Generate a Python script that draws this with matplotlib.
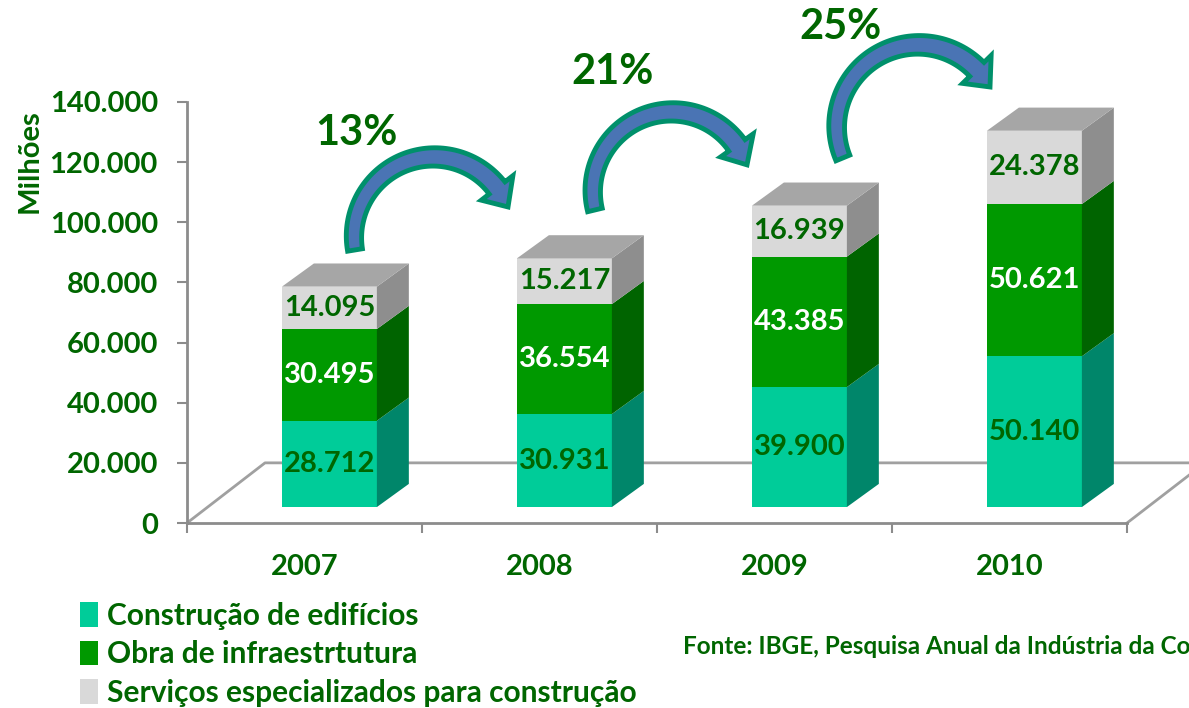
import matplotlib
matplotlib.use('Agg')
import numpy as np
import matplotlib.pyplot as plt
from matplotlib.patches import Polygon
from matplotlib.transforms import IdentityTransform

# fonte parecida com Calibri negrito
plt.rcParams['font.family'] = ['Lato', 'DejaVu Sans']
plt.rcParams['font.weight'] = 'bold'

# dados (R$ milhões)
anos = ['2007', '2008', '2009', '2010']
edificios = [28712, 30931, 39900, 50140]
infraestrutura = [30495, 36554, 43385, 50621]
servicos = [14095, 15217, 16939, 24378]
crescimento = ['13%', '21%', '25%']
nomes = ['Construção de edifícios', 'Obra de infraestrtutura',
         'Serviços especializados para construção']
fonte = 'Fonte: IBGE, Pesquisa Anual da Indústria da Construção'

verde = '#006600'
cor_frente = ['#00CC99', '#009900', '#D9D9D9']
cor_lado = ['#00866A', '#006400', '#8E8E8E']
cor_topo = '#A6A6A6'
cor_texto = [verde, 'white', verde]

# efeito 3D (em unidades dos dados)
piso_dx, piso_dy = 0.332, 20.0     # profundidade do piso
prof_dx, prof_dy = 0.136, 7.7      # profundidade das barras
base = 5.3                         # base das barras (meio do piso)
desloc = 0.106                     # deslocamento da face frontal
larg = 0.404


def seta_curva(ax, p_ini, p_meio, p_fim, w0=15, w1=20, hw=40, hl=22):
    """seta em arco de círculo passando por três pontos (dados)"""
    A, B, C = ax.transData.transform([p_ini, p_meio, p_fim])
    (x1, y1), (x2, y2), (x3, y3) = A, B, C
    d = 2 * (x1 * (y2 - y3) + x2 * (y3 - y1) + x3 * (y1 - y2))
    ux = ((x1**2 + y1**2) * (y2 - y3) + (x2**2 + y2**2) * (y3 - y1)
          + (x3**2 + y3**2) * (y1 - y2)) / d
    uy = ((x1**2 + y1**2) * (x3 - x2) + (x2**2 + y2**2) * (x1 - x3)
          + (x3**2 + y3**2) * (x2 - x1)) / d
    r = np.hypot(x1 - ux, y1 - uy)
    a0 = np.arctan2(y1 - uy, x1 - ux)
    a2 = np.arctan2(y3 - uy, x3 - ux)
    while a2 > a0:
        a2 -= 2 * np.pi
    ah = a2 + hl / r
    t = np.linspace(0, 1, 80)
    ang = a0 + (ah - a0) * t
    w = w0 + (w1 - w0) * t
    ext = np.column_stack([ux + (r + w / 2) * np.cos(ang), uy + (r + w / 2) * np.sin(ang)])
    inn = np.column_stack([ux + (r - w / 2) * np.cos(ang), uy + (r - w / 2) * np.sin(ang)])
    ponta = np.array([
        [ux + (r + hw / 2) * np.cos(ah), uy + (r + hw / 2) * np.sin(ah)],
        [x3, y3],
        [ux + (r - hw / 2) * np.cos(ah), uy + (r - hw / 2) * np.sin(ah)],
    ])
    pts = np.vstack([ext, ponta, inn[::-1]])
    p = Polygon(pts, closed=True, facecolor='#4A74B4', edgecolor='#00906B',
                lw=3.5, joinstyle='miter', transform=IdentityTransform(),
                clip_on=False, zorder=6)
    ax.add_artist(p)


fig = plt.figure(figsize=(11.89, 7.08), dpi=100)
ax = fig.add_axes([187 / 1189, 185 / 708, 940 / 1189, 421 / 708])
ax.set_xlim(-0.5, 3.5)
ax.set_ylim(0, 140)

# piso
x0, x1 = -0.5, 3.5
ax.plot([x0, x0 + piso_dx, x1 + piso_dx], [0, piso_dy, piso_dy],
        color='#A0A0A0', lw=2, clip_on=False, zorder=1)
ax.plot([x1, x1 + piso_dx], [0, piso_dy], color='#A0A0A0', lw=2,
        clip_on=False, zorder=1)

series = [edificios, infraestrutura, servicos]
xs = [i + desloc for i in range(len(anos))]
fundo = [base] * len(anos)
handles = []
for s, vals in enumerate(series):
    h = [v / 1000 for v in vals]
    b = ax.bar(xs, h, width=larg, bottom=fundo, color=cor_frente[s],
               zorder=3, label=nomes[s])
    handles.append(b)
    for i, (xc, y0, hh) in enumerate(zip(xs, fundo, h)):
        xr = xc + larg / 2
        lado = Polygon([(xr, y0), (xr + prof_dx, y0 + prof_dy),
                        (xr + prof_dx, y0 + hh + prof_dy), (xr, y0 + hh)],
                       closed=True, facecolor=cor_lado[s], edgecolor='none',
                       zorder=3)
        ax.add_patch(lado)
        ax.text(xc, y0 + hh / 2, f'{vals[i]:,}'.replace(',', '.'),
                ha='center', va='center', fontsize=21, color=cor_texto[s],
                zorder=5)
    fundo = [f + v for f, v in zip(fundo, h)]

# topo das barras
for xc, yt in zip(xs, fundo):
    xl, xr = xc - larg / 2, xc + larg / 2
    topo = Polygon([(xl, yt), (xl + prof_dx, yt + prof_dy),
                    (xr + prof_dx, yt + prof_dy), (xr, yt)],
                   closed=True, facecolor=cor_topo, edgecolor='none', zorder=3)
    ax.add_patch(topo)

# eixos
for lado in ['top', 'right']:
    ax.spines[lado].set_visible(False)
for lado in ['left', 'bottom']:
    ax.spines[lado].set_color('#8C8C8C')
    ax.spines[lado].set_linewidth(2)
    ax.spines[lado].set_zorder(2)

yt = list(range(0, 141, 20))
ax.set_yticks(yt)
ax.set_yticklabels([f'{t * 1000:,}'.replace(',', '.') for t in yt])
ax.tick_params(axis='y', length=7, width=1.5, color='#8C8C8C', pad=14,
               labelsize=21, labelcolor=verde)
ax.set_xticks(range(len(anos)))
ax.set_xticklabels(anos)
ax.set_xticks([i - 0.5 for i in range(len(anos) + 1)], minor=True)
ax.tick_params(axis='x', which='major', length=0, pad=22, labelsize=21,
               labelcolor=verde)
ax.tick_params(axis='x', which='minor', length=7, width=1.5, color='#8C8C8C')
fig.text(30 / 1189, 1 - 161 / 708, 'Milhões', rotation=90, ha='center',
         va='center', fontsize=21, color=verde)

# setas de crescimento (início, topo, ponta)
setas = [
    [(0.215, 90.8), (0.534, 121.7), (0.866, 105.1)],
    [(1.236, 104.1), (1.555, 136.7), (1.883, 119.1)],
    [(2.291, 121.4), (2.619, 159.0), (2.917, 145.0)],
]
pos_pct = [(0.223, 129.7), (1.313, 150.0), (2.279, 165.0)]
for pts, txt, (tx, ty) in zip(setas, crescimento, pos_pct):
    seta_curva(ax, *pts)
    ax.text(tx, ty, txt, ha='center', va='center', fontsize=30, color=verde,
            clip_on=False, zorder=6)

# legenda
leg = fig.legend(handles=handles, labels=nomes, loc='upper left',
                 bbox_to_anchor=(68 / 1189, 1 - 590 / 708), frameon=False,
                 fontsize=21.5, handlelength=0.6, handleheight=0.9,
                 handletextpad=0.3, labelspacing=0.35, borderaxespad=0)
for t in leg.get_texts():
    t.set_color(verde)

# fonte (cortada na borda direita, como no original)
fig.text(683 / 1189, 1 - 646 / 708, fonte, ha='left', va='center',
         fontsize=17.5, color=verde)

fig.savefig('out.png', dpi=100)
